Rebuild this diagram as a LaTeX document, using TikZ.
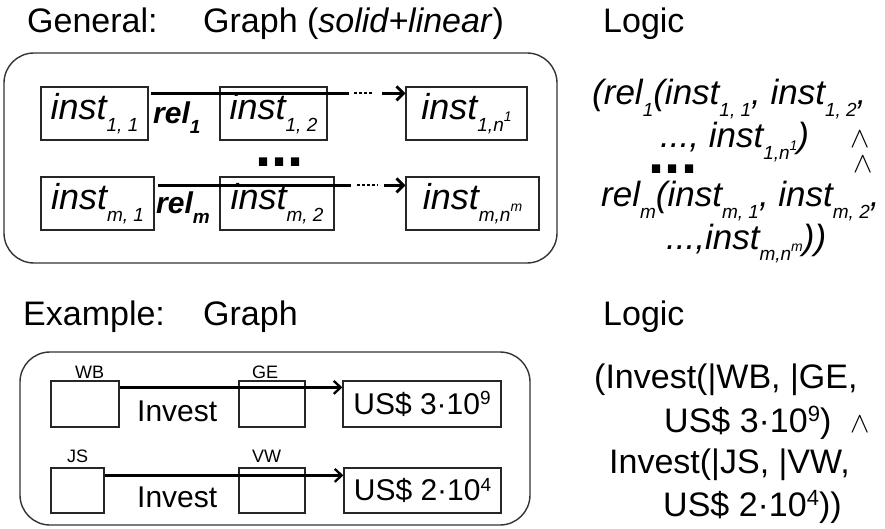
\documentclass[tikz,border=0pt]{standalone}
\usepackage{fontspec}
\setmainfont{Liberation Sans}
\usetikzlibrary{arrows.meta,calc}

% font size helper
\newcommand\fs[1]{\fontsize{#1}{#1}\selectfont}
% lowered index after a large word
\newcommand\lo[1]{\raisebox{-0.33em}{\fs{19}#1}}
% raised index inside a lowered one
\newcommand\nhi[1]{\raisebox{0.5em}{\fs{14}#1}}
% raised exponent, size given
\newcommand\pw[2]{\raisebox{0.32em}{\fs{#1}#2}}
\newcommand\andsym{\scalebox{2.9}{$\wedge$}}

\tikzset{
  txt/.style={inner sep=0pt, anchor=base west},
  hdr/.style={txt, font=\fs{34}},
  frame/.style={draw=black!80, line width=1.4pt, rounded corners=30pt, inner sep=0pt},
  ibox/.style={draw=black!85, line width=1.2pt, minimum height=53pt, inner sep=0pt, font=\fs{36}\itshape},
  ebox/.style={draw=black!85, line width=1.2pt, inner sep=0pt, font=\fs{30}},
  relline/.style={line width=2.8pt},
  dotline/.style={line width=2pt, dash pattern=on 2.5pt off 2.4pt},
  tip/.style={-{Straight Barb[length=7pt,width=14pt]}},
  invline/.style={line width=2.3pt, -{Straight Barb[length=7pt,width=13pt]}},
  logic/.style={txt, font=\fs{35}\itshape},
  elogic/.style={txt, font=\fs{34}},
  small/.style={txt, font=\fs{18}},
  andnode/.style={inner sep=0pt, anchor=south},
}

\begin{document}
\begin{tikzpicture}[x=1pt,y=-1pt]
\useasboundingbox (0,0) rectangle (885,529);

% ---------- headings ----------
\node[hdr] (gen)    at (27,33)  {General:};
\node[hdr] (ggraph) at (203,33) {Graph (\textit{solid+linear})};
\node[hdr] (glogic) at (603,33) {Logic};
\node[hdr] (ex)     at (23,325) {Example:};
\node[hdr] (egraph) at (203,325){Graph};
\node[hdr] (elog)   at (603,325){Logic};

% ---------- general graph ----------
\node[frame, minimum width=553pt, minimum height=210pt] (gframe) at (280.5,158) {};

\node[ibox, minimum width=107pt] (i11) at (94.5,113.5)  {inst\lo{1, 1}};
\node[ibox, minimum width=107pt] (i12) at (273.5,113.5) {inst\lo{1, 2}};
\node[ibox, minimum width=121pt] (i1n) at (466.5,113.5) {inst\lo{1,n\nhi{1}}};

\node[ibox, minimum width=113pt] (im1) at (97.5,203.5)  {inst\lo{m, 1}};
\node[ibox, minimum width=114pt] (im2) at (277,203.5)   {inst\lo{m, 2}};
\node[ibox, minimum width=133pt] (imn) at (472.5,203.5) {inst\lo{m,n\nhi{m}}};

\node[txt, font=\fs{30}\bfseries\itshape] (rel1) at (153,124) {rel\lo{1}};
\node[txt, font=\fs{30}\bfseries\itshape] (relm) at (156,214) {rel\lo{m}};

\node[inner sep=0pt, anchor=base, font=\fs{58}\bfseries] (gdots) at (279.5,167) {...};

% relation 1
\path ($(i11.north east)+(2,7)$) coordinate (s1) (s1 -| i1n.west) coordinate (e1);
\draw[relline] (s1) -- ($(e1)+(-56,0)$);
\draw[dotline] ($(e1)+(-51,0)$) -- ($(e1)+(-33,0)$);
\draw[relline, tip] ($(e1)+(-23,0)$) -- (e1);

% relation m
\path ($(im1.north east)+(3,9)$) coordinate (s2) (s2 -| imn.west) coordinate (e2);
\draw[relline] (s2) -- ($(e2)+(-54,0)$);
\draw[dotline] ($(e2)+(-48,0)$) -- ($(e2)+(-27,0)$);
\draw[relline, tip] ($(e2)+(-21,0)$) -- (e2);

% ---------- general logic ----------
\node[logic] (l1) at (592,105) {(rel\lo{1}(inst\lo{1, 1}, inst\lo{1, 2},};
\node[logic] (l2) at (660,148) {..., inst\lo{1,n\nhi{1}})};
\node[andnode] (w1) at (860,148) {\andsym};
\node[inner sep=0pt, anchor=base, font=\fs{58}\bfseries] (ldots) at (673,174) {...};
\node[andnode] (w2) at (863,173) {\andsym};
\node[logic] (l4) at (601,207) {rel\lo{m}(inst\lo{m, 1}, inst\lo{m, 2},};
\node[logic] (l5) at (666,249) {...,inst\lo{m,n\nhi{m}}))};

% ---------- example graph ----------
\node[frame, minimum width=510pt, minimum height=173pt] (eframe) at (275,438.5) {};

\node[ebox, minimum width=68pt, minimum height=46pt]  (wb)  at (85,404)    {};
\node[ebox, minimum width=66pt, minimum height=46pt]  (ge)  at (272,404)   {};
\node[ebox, minimum width=158pt, minimum height=46pt] (us3) at (422,404)   {US\$ 3·10\pw{19}{9}};
\node[ebox, minimum width=53pt, minimum height=45pt]  (js)  at (77.5,490.5){};
\node[ebox, minimum width=66pt, minimum height=45pt]  (vw)  at (272,490.5) {};
\node[ebox, minimum width=157pt, minimum height=45pt] (us2) at (422.5,490.5){US\$ 2·10\pw{19}{4}};

\node[small] (lwb) at (75,378)  {WB};
\node[small] (lge) at (252,378) {GE};
\node[small] (ljs) at (67,462)  {JS};
\node[small] (lvw) at (252,462) {VW};

\node[txt, font=\fs{30}] (inv1) at (137,421) {Invest};
\node[txt, font=\fs{30}] (inv2) at (137,507) {Invest};

\draw[invline] ($(wb.north east)+(0,7)$) -- ($(us3.north west)+(0,7)$);
\draw[invline] ($(js.north east)+(0,8)$) -- ($(us2.north west)+(0,8)$);

% ---------- example logic ----------
\node[elogic] (b1) at (594,388) {(Invest(|WB, |GE,};
\node[elogic] (b2) at (664,432) {US\$ 3·10\pw{22}{9})};
\node[andnode] (w3) at (860,433) {\andsym};
\node[elogic] (b3) at (609,473) {Invest(|JS, |VW,};
\node[elogic] (b4) at (663,516) {US\$ 2·10\pw{22}{4}))};
\end{tikzpicture}
\end{document}
